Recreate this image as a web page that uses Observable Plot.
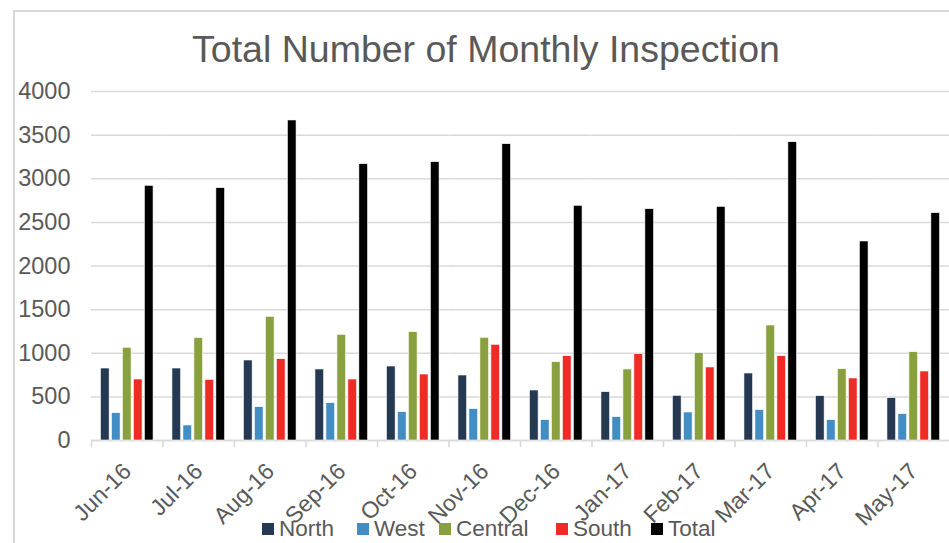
<!DOCTYPE html>
<html>
<head>
<meta charset="utf-8">
<script src="https://cdn.jsdelivr.net/npm/d3@7"></script>
<script src="https://cdn.jsdelivr.net/npm/@observablehq/plot@0.6"></script>
<style>
  html, body { margin: 0; padding: 0; background: #fff; }
  #wrap { position: relative; width: 949px; height: 543px; overflow: hidden; font-family: "Liberation Sans", Arial, sans-serif; }
  #border { position: absolute; left: 13px; top: 10px; width: 1000px; height: 600px; border-top: 2px solid #d9d9d9; border-left: 2px solid #d9d9d9; }
  #title { position: absolute; left: 0; top: 28px; width: 972px; text-align: center; font-size: 37.5px; color: #595959; white-space: nowrap; }
  #chart { position: absolute; left: 0; top: 0; }
  #legend { position: absolute; left: 0; top: 516px; width: 949px; height: 26px; font-size: 22.5px; color: #595959; }
  #legend .item { position: absolute; top: 0; display: flex; align-items: center; height: 26px; white-space: nowrap; }
  #legend .sw { width: 12px; height: 12px; margin-right: 5px; }
</style>
</head>
<body>
<div id="wrap">
  <div id="border"></div>
  <div id="chart"></div>
  <div id="title">Total Number of Monthly Inspection</div>
  <div id="legend"></div>
</div>
<script>
const months = ["Jun-16","Jul-16","Aug-16","Sep-16","Oct-16","Nov-16","Dec-16","Jan-17","Feb-17","Mar-17","Apr-17","May-17"];
const seriesNames = ["North","West","Central","South","Total"];
const seriesColors = ["#253a52","#428ec4","#89a03e","#ee2b24","#000000"];
const north   = [825, 825, 917, 814, 848, 745, 573, 554, 512, 768, 508, 485];
const west    = [313, 172, 382, 428, 325, 359, 233, 267, 321, 348, 233, 302];
const central = [1062, 1173, 1417, 1211, 1242, 1177, 898, 814, 1001, 1318, 817, 1012];
const south   = [699, 695, 932, 699, 756, 1097, 966, 989, 837, 966, 711, 791];
const total   = [2919, 2892, 3668, 3167, 3190, 3396, 2690, 2651, 2678, 3419, 2281, 2605];
const yTicks  = [0, 500, 1000, 1500, 2000, 2500, 3000, 3500, 4000];
const legendX = [262, 357, 439, 556, 651];

const seriesValues = [north, west, central, south, total];
const rows = [];
months.forEach((m, i) => {
  seriesNames.forEach((s, j) => rows.push({month: m, series: s, value: seriesValues[j][i]}));
});

const chart = Plot.plot({
  width: 949,
  height: 543,
  marginTop: 91,
  marginBottom: 103,
  marginLeft: 91,
  marginRight: 0,
  style: {fontFamily: "'Liberation Sans', Arial, sans-serif", fontSize: "23px", color: "#595959", background: "transparent"},
  fx: {domain: months, padding: 0, round: false, label: null},
  x: {domain: seriesNames, paddingInner: 0.21, paddingOuter: 0.86, round: false, axis: null},
  y: {domain: [0, 4000], label: null},
  color: {domain: seriesNames, range: seriesColors},
  marks: [
    Plot.gridY(yTicks, {stroke: "#d9d9d9", strokeOpacity: 1, strokeWidth: 1.5}),
    Plot.axisY(yTicks, {tickSize: 0, tickPadding: 21, fill: "#595959", fontSize: 23.5, tickFormat: d3.format("d"), label: null}),
    Plot.ruleY([0], {stroke: "#d9d9d9", strokeWidth: 1.5}),
    Plot.frame({anchor: "left", stroke: "#d9d9d9", strokeWidth: 1.5, insetTop: 349, insetBottom: -6}),
    Plot.barY(rows, {fx: "month", x: "series", y: "value", fill: "series", stroke: "white", strokeWidth: 0.6}),
    Plot.axisFx({anchor: "bottom", tickSize: 0, tickPadding: 27, tickRotate: -45, fill: "#595959", fontSize: 23, label: null})
  ]
});
document.getElementById("chart").appendChild(chart);

const legend = document.getElementById("legend");
seriesNames.forEach((s, j) => {
  const it = document.createElement("div");
  it.className = "item";
  it.style.left = legendX[j] + "px";
  const sw = document.createElement("div");
  sw.className = "sw";
  sw.style.background = seriesColors[j];
  const lab = document.createElement("span");
  lab.textContent = s;
  it.appendChild(sw);
  it.appendChild(lab);
  legend.appendChild(it);
});
</script>
</body>
</html>
